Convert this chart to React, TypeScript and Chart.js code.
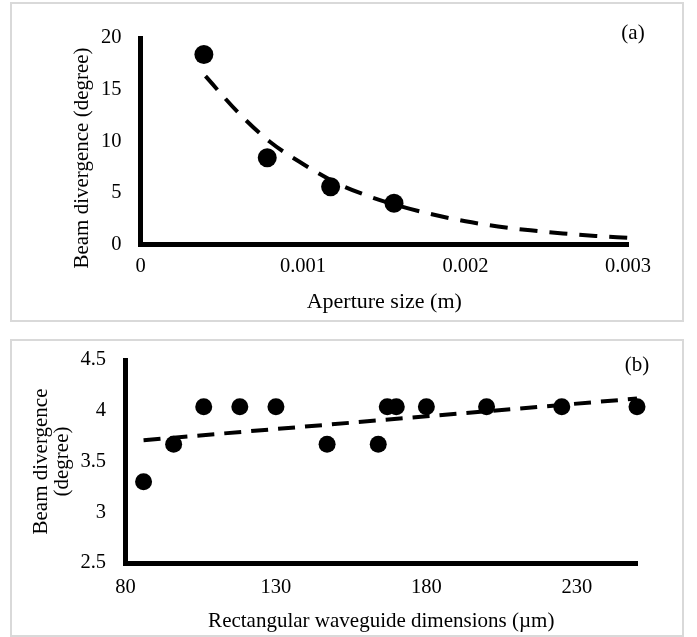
import React, { useEffect, useRef } from 'react';
import { Chart, registerables } from 'chart.js';

Chart.register(...registerables);

// ---------- Panel (a) data ----------
const apertureSize = [0.00039, 0.00078, 0.00117, 0.00156];
const divergenceA = [18.4, 8.4, 5.6, 4.0];
const trendApertureX = [0.0004, 0.0006, 0.0008, 0.001, 0.0012, 0.0014, 0.0016, 0.0018, 0.002, 0.0022, 0.0024, 0.0026, 0.0028, 0.003];
const trendDivergenceA = [16.3, 12.8, 9.9, 7.8, 6.0, 4.7, 3.7, 2.9, 2.25, 1.75, 1.37, 1.07, 0.83, 0.65];
const xTicksA = [0, 0.001, 0.002, 0.003];
const xTickLabelsA = ['0', '0.001', '0.002', '0.003'];
const yTicksA = [0, 5, 10, 15, 20];
const yTickLabelsA = ['0', '5', '10', '15', '20'];

// ---------- Panel (b) data ----------
const waveguideDims = [86, 96, 106, 118, 130, 147, 164, 167, 170, 180, 200, 225, 250];
const divergenceB = [3.3, 3.67, 4.04, 4.04, 4.04, 3.67, 3.67, 4.04, 4.04, 4.04, 4.04, 4.04, 4.04];
const trendDimsX = [86, 250];
const trendDivergenceB = [3.71, 4.12];
const xTicksB = [80, 130, 180, 230];
const xTickLabelsB = ['80', '130', '180', '230'];
const yTicksB = [2.5, 3, 3.5, 4, 4.5];
const yTickLabelsB = ['2.5', '3', '3.5', '4', '4.5'];

const FONT = "'Liberation Serif', 'Times New Roman', serif";

type TextItem = {
  lines: string[];
  size: number;
  ax: 'left' | 'right';
  ay: 'top' | 'mid';
  dx: number;
  dy: number;
  rotate?: number;
  lineHeight?: number;
};

function textPlugin(items: TextItem[]) {
  return {
    id: 'extraText',
    afterDraw(chart: any) {
      const { ctx, chartArea } = chart;
      items.forEach((it) => {
        ctx.save();
        ctx.font = `${it.size}px ${FONT}`;
        ctx.fillStyle = '#000';
        ctx.textAlign = 'center';
        ctx.textBaseline = 'middle';
        const x = (it.ax === 'left' ? chartArea.left : chartArea.right) + it.dx;
        const y = (it.ay === 'top' ? chartArea.top : (chartArea.top + chartArea.bottom) / 2) + it.dy;
        ctx.translate(x, y);
        if (it.rotate) ctx.rotate(it.rotate);
        const lh = it.lineHeight || it.size * 1.2;
        it.lines.forEach((ln, i) => {
          ctx.fillText(ln, 0, (i - (it.lines.length - 1) / 2) * lh);
        });
        ctx.restore();
      });
    },
  };
}

type PanelCfg = {
  points: { x: number; y: number }[];
  trend: { x: number; y: number }[];
  curved: boolean;
  xMin: number; xMax: number; yMin: number; yMax: number;
  xTicks: number[]; xLabels: string[]; yTicks: number[]; yLabels: string[];
  xTitle: string; xTitleSize: number; xTitlePad: number;
  tickSize: number; xTickPad: number; yTickPad: number;
  padTop: number; padRight: number; yWidth: number; xHeight: number;
  texts: TextItem[];
  dash: number[];
  markerRadius: number;
};

function buildConfig(c: PanelCfg): any {
  const axisCommon = {
    grid: { display: false, drawTicks: false },
    border: { display: true, color: '#000', width: 5 },
  };
  return {
    type: 'scatter',
    data: {
      datasets: [
        {
          data: c.points,
          showLine: false,
          pointRadius: c.markerRadius,
          pointHoverRadius: c.markerRadius,
          pointBackgroundColor: '#000',
          pointBorderColor: '#000',
          pointBorderWidth: 0,
          clip: false,
        },
        {
          data: c.trend,
          showLine: true,
          borderColor: '#000',
          borderWidth: 4,
          borderDash: c.dash,
          pointRadius: 0,
          pointHoverRadius: 0,
          cubicInterpolationMode: c.curved ? 'monotone' : 'default',
          tension: 0,
          fill: false,
          clip: false,
        },
      ],
    },
    options: {
      responsive: false,
      animation: false,
      devicePixelRatio: 1,
      events: [],
      layout: { padding: { left: 0, top: c.padTop, right: c.padRight, bottom: 0 } },
      plugins: { legend: { display: false }, tooltip: { enabled: false }, title: { display: false } },
      scales: {
        x: {
          type: 'linear',
          min: c.xMin,
          max: c.xMax,
          ...axisCommon,
          afterBuildTicks: (s: any) => { s.ticks = c.xTicks.map((v) => ({ value: v })); },
          afterFit: (s: any) => {
            s.height = c.xHeight;
            s.paddingLeft = 0;
            s.paddingRight = 0;
          },
          ticks: {
            color: '#000',
            padding: c.xTickPad,
            maxRotation: 0,
            minRotation: 0,
            autoSkip: false,
            font: { family: FONT, size: c.tickSize },
            callback: (_v: any, i: number) => c.xLabels[i],
          },
          title: {
            display: true,
            text: c.xTitle,
            color: '#000',
            font: { family: FONT, size: c.xTitleSize },
            padding: { top: 0, bottom: c.xTitlePad },
          },
        },
        y: {
          type: 'linear',
          min: c.yMin,
          max: c.yMax,
          ...axisCommon,
          afterBuildTicks: (s: any) => { s.ticks = c.yTicks.map((v) => ({ value: v })); },
          afterFit: (s: any) => {
            s.width = c.yWidth;
            s.paddingTop = 0;
            s.paddingBottom = 0;
          },
          ticks: {
            color: '#000',
            padding: c.yTickPad,
            autoSkip: false,
            font: { family: FONT, size: c.tickSize },
            callback: (_v: any, i: number) => c.yLabels[i],
          },
          title: { display: false },
        },
      },
    },
    plugins: [textPlugin(c.texts)],
  };
}

function Panel({ left, top, width, height, cfg }: { left: number; top: number; width: number; height: number; cfg: PanelCfg }) {
  const ref = useRef<HTMLCanvasElement | null>(null);
  useEffect(() => {
    if (!ref.current) return;
    const chart = new Chart(ref.current, buildConfig(cfg));
    return () => chart.destroy();
  }, []);
  return (
    <div
      style={{
        position: 'absolute',
        left,
        top,
        width,
        height,
        boxSizing: 'border-box',
        border: '2px solid #d9d9d9',
        background: '#fff',
      }}
    >
      <canvas ref={ref} width={width - 4} height={height - 4} style={{ display: 'block', width: width - 4, height: height - 4 }} />
    </div>
  );
}

const cfgA: PanelCfg = {
  points: apertureSize.map((x, i) => ({ x, y: divergenceA[i] })),
  trend: trendApertureX.map((x, i) => ({ x, y: trendDivergenceA[i] })),
  curved: true,
  xMin: 0, xMax: 0.003, yMin: 0, yMax: 20,
  xTicks: xTicksA, xLabels: xTickLabelsA, yTicks: yTicksA, yLabels: yTickLabelsA,
  xTitle: 'Aperture size (m)', xTitleSize: 22, xTitlePad: 4.5,
  tickSize: 20.5, xTickPad: 10, yTickPad: 19,
  padTop: 34, padRight: 54, yWidth: 128.5, xHeight: 75.5,
  dash: [18, 12],
  markerRadius: 9.5,
  texts: [
    { lines: ['(a)'], size: 21, ax: 'right', ay: 'top', dx: 5, dy: -5 },
    { lines: ['Beam divergence (degree)'], size: 21, ax: 'left', ay: 'mid', dx: -58.5, dy: 16.75, rotate: -Math.PI / 2 },
  ],
};

const cfgB: PanelCfg = {
  points: waveguideDims.map((x, i) => ({ x, y: divergenceB[i] })),
  trend: trendDimsX.map((x, i) => ({ x, y: trendDivergenceB[i] })),
  curved: false,
  xMin: 80, xMax: 250, yMin: 2.5, yMax: 4.5,
  xTicks: xTicksB, xLabels: xTickLabelsB, yTicks: yTicksB, yLabels: yTickLabelsB,
  xTitle: 'Rectangular waveguide dimensions (\u00b5m)', xTitleSize: 21, xTitlePad: 1.4,
  tickSize: 20.5, xTickPad: 12, yTickPad: 19.5,
  padTop: 19, padRight: 45, yWidth: 113.5, xHeight: 72,
  dash: [17, 10],
  markerRadius: 8.5,
  texts: [
    { lines: ['(b)'], size: 21, ax: 'right', ay: 'top', dx: 0, dy: 5 },
    { lines: ['Beam divergence', '(degree)'], size: 21, ax: 'left', ay: 'mid', dx: -73.5, dy: 0, rotate: -Math.PI / 2, lineHeight: 21 },
  ],
};

export default function App() {
  return (
    <div style={{ position: 'absolute', left: 0, top: 0, width: 697, height: 637, background: '#fff' }}>
      <Panel left={10} top={2} width={674} height={320} cfg={cfgA} />
      <Panel left={10} top={339} width={674} height={298} cfg={cfgB} />
    </div>
  );
}
